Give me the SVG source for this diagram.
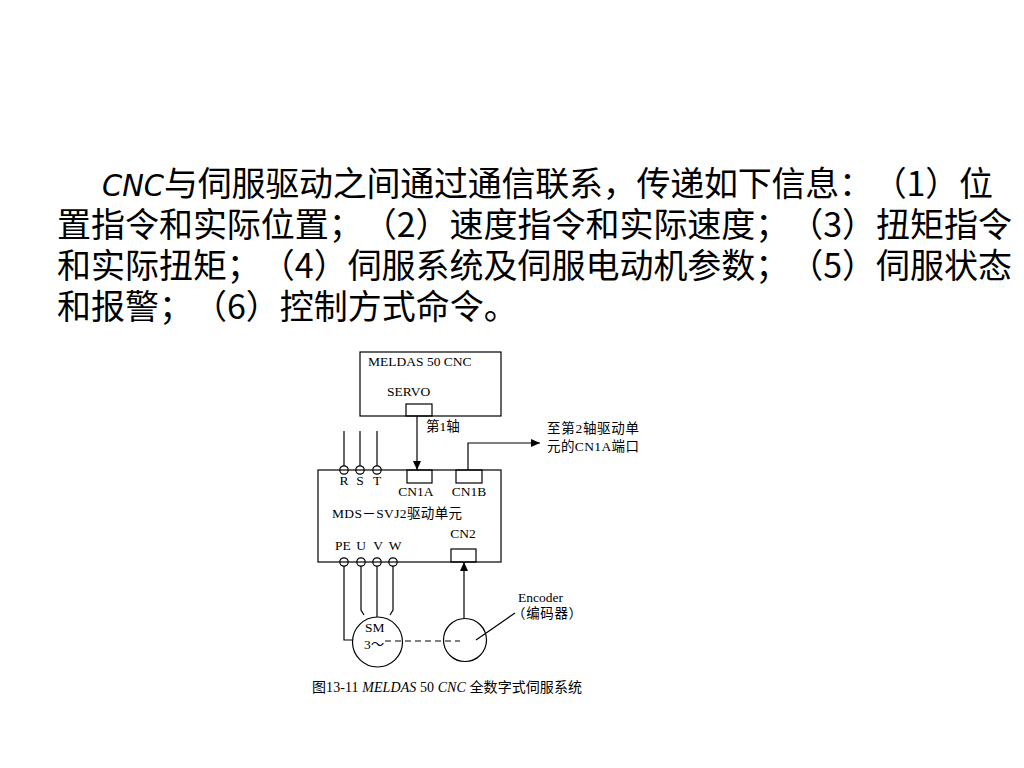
<svg xmlns="http://www.w3.org/2000/svg" width="1024" height="768" viewBox="0 0 1024 768">
<style>
svg{text-spacing-trim:space-all}
text{text-spacing-trim:space-all}
.para{font-family:"Noto Sans CJK SC","Noto Sans",sans-serif;font-size:34px;fill:#000}
.lat{font-family:"DejaVu Sans","Noto Sans",sans-serif;font-style:italic;font-size:31px;fill:#000}
.t{font-family:"Liberation Serif","Noto Sans CJK SC",serif;font-size:13.5px;fill:#000}
.cj{font-family:"Liberation Serif","Noto Sans CJK SC",serif;font-size:13.5px;fill:#000}
.cap{font-family:"Liberation Serif","Noto Sans CJK SC",serif;font-size:14px;fill:#000}
.ln{fill:none;stroke:#000;stroke-width:1.2}
.dash{fill:none;stroke:#000;stroke-width:1.2;stroke-dasharray:6 4}
.mid{text-anchor:middle}
</style>
<defs>
<marker id="ah" markerUnits="userSpaceOnUse" markerWidth="10" markerHeight="8" refX="9" refY="4" orient="auto">
<path d="M0,0 L9,4 L0,8 Z" fill="#000"/>
</marker>
</defs>
<rect width="1024" height="768" fill="#fff"/>

<g id="paragraph">
<text class="lat" x="102" y="196" textLength="62" lengthAdjust="spacingAndGlyphs">CNC</text>
<text class="para" x="164" y="196" textLength="829" lengthAdjust="spacing">与伺服驱动之间通过通信联系，传递如下信息：（1）位</text>
<text class="para" x="57" y="237" textLength="955" lengthAdjust="spacing">置指令和实际位置；（2）速度指令和实际速度；（3）扭矩指令</text>
<text class="para" x="57" y="278" textLength="955" lengthAdjust="spacing">和实际扭矩；（4）伺服系统及伺服电动机参数；（5）伺服状态</text>
<text class="para" x="57" y="319">和报警；（6）控制方式命令。</text>
</g>

<g id="cnc">
<rect class="ln" x="360" y="352" width="141" height="64"/>
<text class="t" x="368" y="366">MELDAS 50 CNC</text>
<text class="t" x="387" y="396">SERVO</text>
<rect class="ln" x="406" y="404" width="26" height="12"/>
</g>

<g id="drive">
<rect class="ln" x="318" y="470" width="183" height="92"/>
<rect class="ln" x="407" y="470" width="25" height="13" fill="#fff"/>
<rect class="ln" x="456" y="470" width="26" height="13" fill="#fff"/>
<rect class="ln" x="451" y="549" width="25" height="13"/>
<text class="t mid" x="344" y="485">R</text>
<text class="t mid" x="360" y="485">S</text>
<text class="t mid" x="377" y="485">T</text>
<text class="t mid" x="416" y="496">CN1A</text>
<text class="t mid" x="469" y="496">CN1B</text>
<text class="t" x="332" y="518" textLength="130">MDS－SVJ2驱动单元</text>
<text class="t mid" x="463" y="538">CN2</text>
<text class="t mid" x="343" y="550">PE</text>
<text class="t mid" x="361" y="550">U</text>
<text class="t mid" x="378" y="550">V</text>
<text class="t mid" x="395" y="550">W</text>
<g fill="#fff" class="ln">
<circle cx="344" cy="470" r="4.2"/>
<circle cx="360" cy="470" r="4.2"/>
<circle cx="377" cy="470" r="4.2"/>
<circle cx="344" cy="562" r="4.2"/>
<circle cx="361" cy="562" r="4.2"/>
<circle cx="377" cy="562" r="4.2"/>
<circle cx="393" cy="562" r="4.2"/>
</g>
</g>

<g id="motor">
<circle class="ln" cx="377.5" cy="642" r="25"/>
<text class="t" x="365" y="632">SM</text>
<text class="t" x="364" y="649">3～</text>
</g>

<g id="encoder">
<circle class="ln" cx="465" cy="640" r="21.5"/>
<text class="t" x="518" y="602">Encoder</text>
<text class="cj" x="512" y="618" textLength="70">（编码器）</text>
</g>

<g id="labels">
<text class="cj" x="426" y="431">第1轴</text>
<text class="cj" x="547" y="433" textLength="92">至第2轴驱动单</text>
<text class="cj" x="547" y="451" textLength="92">元的CN1A端口</text>
</g>

<g id="connectors">
<line class="ln" x1="344" y1="431" x2="344" y2="466"/>
<line class="ln" x1="360" y1="431" x2="360" y2="466"/>
<line class="ln" x1="377" y1="431" x2="377" y2="466"/>
<line class="ln" x1="417" y1="416" x2="417" y2="470" marker-end="url(#ah)"/>
<path class="ln" d="M468,470 V443 H540" marker-end="url(#ah)"/>
<path class="ln" d="M344,566 V640 H352.5"/>
<path class="ln" d="M361,566 V610 L364,615"/>
<line class="ln" x1="377" y1="566" x2="377" y2="617"/>
<path class="ln" d="M393,566 V610 L390,615"/>
<line class="ln" x1="464" y1="618.5" x2="464" y2="562" marker-end="url(#ah)"/>
<line class="dash" x1="385" y1="641" x2="460" y2="641"/>
<line class="ln" x1="476" y1="640" x2="515" y2="613"/>
</g>

<g id="caption">
<text class="cap" x="312" y="692" textLength="270">图13-11 <tspan font-style="italic">MELDAS</tspan> 50 <tspan font-style="italic">CNC</tspan> 全数字式伺服系统</text>
</g>
</svg>
